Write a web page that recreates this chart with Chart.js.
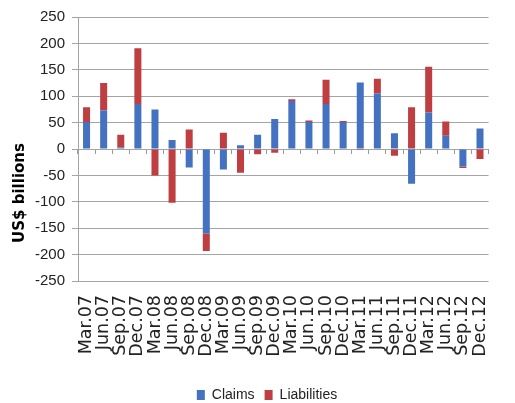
<!DOCTYPE html>
<html>
<head>
<meta charset="utf-8">
<script src="https://cdn.jsdelivr.net/npm/chart.js@4/dist/chart.umd.min.js"></script>
<style>
  html, body { margin: 0; padding: 0; background: #ffffff; }
  #wrap { position: relative; width: 515px; height: 403px; }
</style>
</head>
<body>
<div id="wrap"><canvas id="c"></canvas></div>
<script>
// ---- data ----
const categories = ["Mar.07","Jun.07","Sep.07","Dec.07","Mar.08","Jun.08","Sep.08","Dec.08",
  "Mar.09","Jun.09","Sep.09","Dec.09","Mar.10","Jun.10","Sep.10","Dec.10",
  "Mar.11","Jun.11","Sep.11","Dec.11","Mar.12","Jun.12","Sep.12","Dec.12"];
const claims = [51, 73, 3, 85, 75, 17, -35, -160, -39, 7, 27, 57, 91, 51, 85, 51, 126, 105, 30, -66, 69, 25, -33, 39];
const liabilities = [28, 52, 24, 106, -50, -102, 37, -33, 31, -45, -10, -7, 3, 3, 46, 2, -2, 28, -13, 79, 87, 27, -3, -19];
const seriesNames = ["Claims", "Liabilities"];
const yTitle = "US$ billions";
const yMin = -250, yMax = 250, yStep = 50;

const narrow = '"Liberation Sans Narrow", "Liberation Sans", Arial, sans-serif';
const wide = '"DejaVu Sans", Verdana, sans-serif';

const yTitlePlugin = {
  id: 'yTitlePlugin',
  afterLayout(chart) {
    // nudge the legend row lower, as in the reference
    if (chart.legend) { chart.legend.top += 11; chart.legend.bottom += 11; }
  },
  afterDraw(chart) {
    const ctx = chart.ctx;
    ctx.save();
    ctx.translate(20, 193);
    ctx.rotate(-Math.PI / 2);
    ctx.font = 'bold 15px ' + wide;
    ctx.textAlign = 'center';
    ctx.textBaseline = 'middle';
    ctx.fillStyle = '#000000';
    ctx.fillText(yTitle, 0, 0);
    ctx.restore();
  }
};

new Chart(document.getElementById('c'), {
  type: 'bar',
  data: {
    labels: categories,
    datasets: [
      { label: seriesNames[0], data: claims, backgroundColor: '#4472C0', borderWidth: 0 },
      { label: seriesNames[1], data: liabilities, backgroundColor: '#BE3E41', borderWidth: 0 }
    ]
  },
  options: {
    responsive: true,
    maintainAspectRatio: false,
    animation: false,
    layout: { padding: { top: 17, left: 19, right: 0, bottom: 2 } },
    datasets: { bar: { categoryPercentage: 1.0, barPercentage: 0.41 } },
    plugins: {
      tooltip: { enabled: false },
      legend: {
        position: 'bottom',
        labels: {
          boxWidth: 8, boxHeight: 10, padding: 10,
          color: '#222222',
          font: { family: narrow, size: 14 }
        }
      }
    },
    scales: {
      x: {
        stacked: true,
        grid: { display: false, drawTicks: false },
        border: { display: false },
        ticks: {
          autoSkip: false, minRotation: 90, maxRotation: 90, padding: 14,
          color: '#222222', font: { family: wide, size: 17.5 }
        },
        afterFit(scale) { scale.height = 86; }
      },
      x2: {
        type: 'category',
        position: { y: 0 },
        grid: { offset: true, drawOnChartArea: false, drawTicks: true, tickLength: 5, color: '#9a9a9a' },
        border: { display: false },
        ticks: { display: false }
      },
      y: {
        stacked: true,
        min: yMin, max: yMax,
        grid: { color: '#a4a4a4', lineWidth: 1, tickLength: 6 },
        border: { display: true, color: '#a4a4a4' },
        ticks: {
          stepSize: yStep, padding: 7,
          color: '#222222', font: { family: narrow, size: 15 }
        },
        afterFit(scale) { scale.width = 59; }
      }
    }
  },
  plugins: [yTitlePlugin]
});
</script>
</body>
</html>
